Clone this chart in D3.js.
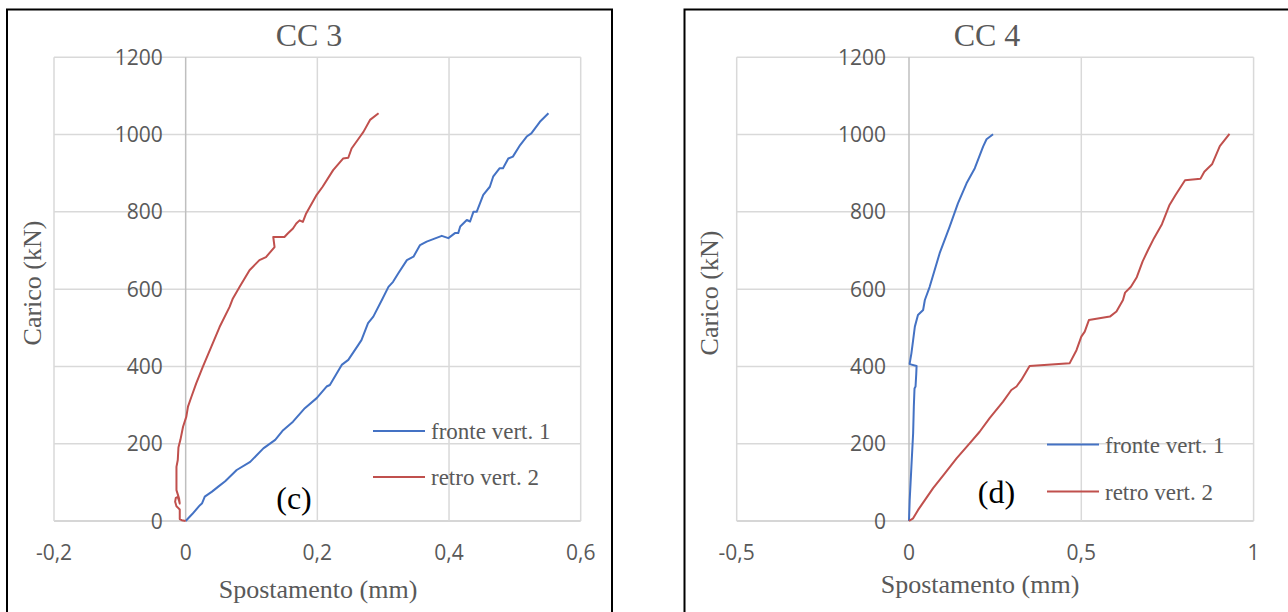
<!DOCTYPE html>
<html>
<head>
<meta charset="utf-8">
<script src="https://cdn.jsdelivr.net/npm/d3@7"></script>
<style>
  html, body { margin: 0; padding: 0; background: #fff; }
  svg { display: block; }
</style>
</head>
<body>
<svg id="chart" width="1288" height="612"></svg>
<script>
// ---------- DATA ----------
const seriesNames = ["fronte vert. 1", "retro vert. 2"];
const yTicks = [0, 200, 400, 600, 800, 1000, 1200];
const xTicksCC3 = [-0.2, 0, 0.2, 0.4, 0.6];
const xTicksCC4 = [-0.5, 0, 0.5, 1];

// CC 3 — fronte vert. 1  [spostamento mm, carico kN]
const cc3Fronte = [
  [0,0],[0.010,18],[0.0217,41],[0.025,46],[0.029,63],[0.040,76],[0.0495,89],[0.060,103],
  [0.0775,132],[0.098,153],[0.118,188],[0.136,210],[0.148,235],[0.163,257],[0.181,292],
  [0.199,318],[0.214,348],[0.219,352],[0.237,404],[0.247,417],[0.262,455],[0.267,468],
  [0.277,512],[0.285,529],[0.298,572],[0.308,606],[0.315,619],[0.323,641],[0.336,675],
  [0.346,684],[0.356,714],[0.366,723],[0.389,738],[0.399,732],[0.409,745],[0.414,745],
  [0.417,762],[0.427,779],[0.432,775],[0.437,800],[0.442,800],[0.452,844],[0.462,865],
  [0.467,891],[0.477,913],[0.482,913],[0.490,938],[0.497,943],[0.508,973],[0.518,995],
  [0.525,1003],[0.538,1033],[0.551,1055]
];
// CC 3 — retro vert. 2
const cc3Retro = [
  [0,0],[-0.006,2],[-0.009,5],[-0.009,30],[-0.014,38],[-0.016,50],[-0.015,60],[-0.012,62],
  [-0.010,52],[-0.009,45],[-0.010,58],[-0.014,80],[-0.014,140],[-0.012,158],[-0.011,190],
  [-0.008,210],[-0.004,244],[0.001,270],[0.0035,296],[0.0086,321],[0.016,356],[0.026,399],
  [0.039,451],[0.0515,502],[0.0667,554],[0.0717,576],[0.082,606],[0.097,649],[0.112,675],
  [0.122,683],[0.135,709],[0.133,735],[0.140,735],[0.150,735],[0.155,744],[0.163,757],
  [0.168,770],[0.173,778],[0.178,774],[0.183,796],[0.199,844],[0.208,865],[0.224,908],
  [0.239,938],[0.247,940],[0.252,964],[0.265,995],[0.270,1007],[0.280,1038],[0.293,1055]
];
// CC 4 — fronte vert. 1
const cc4Fronte = [
  [0,0],[0.002,54],[0.007,141],[0.012,227],[0.014,296],[0.016,343],[0.019,348],[0.021,380],
  [0.022,401],[0.002,406],[0.002,408],[0.007,434],[0.012,468],[0.017,503],[0.026,533],
  [0.041,546],[0.046,572],[0.060,606],[0.089,693],[0.118,762],[0.142,822],[0.167,874],
  [0.191,913],[0.215,969],[0.225,988],[0.244,1001]
];
// CC 4 — retro vert. 2
const cc4Retro = [
  [0,0],[0.012,7],[0.026,28],[0.046,54],[0.070,85],[0.104,123],[0.138,162],[0.176,201],
  [0.205,231],[0.234,266],[0.273,309],[0.297,339],[0.312,348],[0.326,365],[0.350,401],
  [0.466,408],[0.486,442],[0.500,477],[0.510,490],[0.522,520],[0.583,529],[0.602,542],
  [0.621,572],[0.627,591],[0.644,606],[0.661,631],[0.678,672],[0.694,702],[0.711,732],
  [0.734,768],[0.756,818],[0.773,843],[0.801,882],[0.846,886],[0.857,904],[0.880,924],
  [0.902,970],[0.930,1002]
];

// ---------- DRAW ----------
const svg = d3.select("#chart");
const COLORS = ["#4472c4", "#c0504d"];
const SERIF = "'Liberation Serif', 'Times New Roman', serif";
const SANS = "'Open Sans', 'Liberation Sans', sans-serif";
const GRAY = "#595959";

const fmt = v => String(v).replace(".", ",");

function panel(cfg) {
  const g = svg.append("g");
  // frame
  g.append("rect")
    .attr("x", cfg.frame[0]).attr("y", cfg.frame[1])
    .attr("width", cfg.frame[2]).attr("height", cfg.frame[3])
    .attr("fill", "none").attr("stroke", "#000").attr("stroke-width", 2);

  const x = d3.scaleLinear().domain(cfg.xDomain).range(cfg.xRange);
  const y = d3.scaleLinear().domain([0, 1200]).range([521, 57.3]);

  // gridlines
  const grid = g.append("g");
  grid.selectAll("line.h").data(yTicks).join("line")
    .attr("x1", x.range()[0]).attr("x2", x.range()[1])
    .attr("y1", d => y(d)).attr("y2", d => y(d))
    .attr("stroke", d => d === 0 ? "#c9c9c9" : "#d9d9d9").attr("stroke-width", 1.5);
  grid.selectAll("line.v").data(cfg.xTicks).join("line")
    .attr("x1", d => x(d)).attr("x2", d => x(d))
    .attr("y1", y(0)).attr("y2", y(1200))
    .attr("stroke", d => d === 0 ? "#bfbfbf" : "#d9d9d9").attr("stroke-width", 1.5);

  // y tick labels (next to the x=0 axis)
  g.selectAll("text.yt").data(yTicks).join("text")
    .attr("x", x(0) - 23).attr("y", d => y(d)).attr("dy", "0.36em")
    .attr("text-anchor", "end")
    .attr("font-family", SANS).attr("font-size", 21).attr("fill", GRAY)
    .text(d => d);

  // x tick labels
  g.selectAll("text.xt").data(cfg.xTicks).join("text")
    .attr("x", d => x(d)).attr("y", 560)
    .attr("text-anchor", "middle")
    .attr("font-family", SANS).attr("font-size", 21).attr("fill", GRAY)
    .text(d => fmt(d));

  // lines
  const line = d3.line().x(d => x(d[0])).y(d => y(d[1]));
  cfg.series.forEach((s, i) => {
    g.append("path").datum(s)
      .attr("d", line).attr("fill", "none")
      .attr("stroke", COLORS[i]).attr("stroke-width", 2)
      .attr("stroke-linejoin", "round");
  });

  // title
  g.append("text").attr("x", cfg.titleX).attr("y", 46)
    .attr("text-anchor", "middle").attr("font-family", SERIF)
    .attr("font-size", 32).attr("fill", GRAY).text(cfg.title);

  // axis titles
  g.append("text").attr("x", cfg.xTitle[0]).attr("y", cfg.xTitle[1])
    .attr("text-anchor", "middle").attr("font-family", SERIF)
    .attr("font-size", 26).attr("fill", GRAY).text("Spostamento (mm)");
  g.append("text")
    .attr("transform", `translate(${cfg.yTitle[0]},${cfg.yTitle[1]}) rotate(-90)`)
    .attr("text-anchor", "middle").attr("font-family", SERIF)
    .attr("font-size", 26).attr("fill", GRAY).text("Carico (kN)");

  // legend
  seriesNames.forEach((n, i) => {
    const ly = cfg.legend[1] + i * cfg.legend[3];
    g.append("line").attr("x1", cfg.legend[0]).attr("x2", cfg.legend[0] + cfg.legend[2])
      .attr("y1", ly).attr("y2", ly).attr("stroke", COLORS[i]).attr("stroke-width", 2);
    g.append("text").attr("x", cfg.legend[0] + cfg.legend[2] + 6).attr("y", ly + 8)
      .attr("font-family", SERIF).attr("font-size", 23).attr("fill", GRAY).text(n);
  });

  // panel letter
  g.append("text").attr("x", cfg.letter[0]).attr("y", cfg.letter[1])
    .attr("text-anchor", "middle").attr("font-family", SERIF)
    .attr("font-size", 32).attr("fill", "#000").text(cfg.letterText);
}

panel({
  frame: [7, 9.5, 605, 620],
  xDomain: [-0.2, 0.6], xRange: [54, 580.7], xTicks: xTicksCC3,
  series: [cc3Fronte, cc3Retro],
  title: "CC 3", titleX: 309,
  xTitle: [318, 598], yTitle: [41, 283],
  legend: [373, 431, 52, 46],
  letter: [294, 509], letterText: "(c)"
});

panel({
  frame: [684.5, 9.5, 610, 620],
  xDomain: [-0.5, 1], xRange: [736.7, 1253.6], xTicks: xTicksCC4,
  series: [cc4Fronte, cc4Retro],
  title: "CC 4", titleX: 987,
  xTitle: [980, 593], yTitle: [718, 293],
  legend: [1047, 444.5, 52, 47],
  letter: [996.5, 503], letterText: "(d)"
});
</script>
</body>
</html>
